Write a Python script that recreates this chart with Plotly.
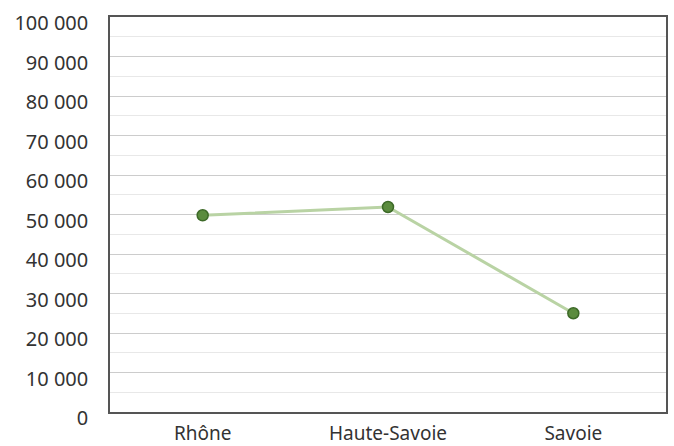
import plotly.graph_objects as go

departements = ["Rhône", "Haute-Savoie", "Savoie"]
valeurs = [49800, 51900, 25000]

fig = go.Figure()
fig.add_trace(go.Scatter(
    x=departements,
    y=valeurs,
    mode="lines+markers",
    line=dict(color="#b9d3a4", width=3),
    marker=dict(size=11, color="#5b8c3e", line=dict(color="#3d6a28", width=1.5)),
    showlegend=False,
))

fig.update_layout(
    width=674,
    height=446,
    margin=dict(l=110, r=8, t=17, b=34, autoexpand=False),
    paper_bgcolor="white",
    plot_bgcolor="white",
    separators=", ",
    font=dict(family="Noto Sans, Open Sans, sans-serif", size=20, color="#333333"),
)

fig.update_xaxes(
    type="category",
    range=[-0.5, 2.5],
    showgrid=False,
    showline=True,
    linecolor="#555555",
    linewidth=1.5,
    mirror=True,
    ticks="",
    automargin=False,
    ticklabelstandoff=3,
    tickfont=dict(size=19, color="#333333"),
)

fig.update_yaxes(
    range=[0, 100000],
    dtick=10000,
    tickformat=",d",
    showgrid=True,
    gridcolor="#cccccc",
    gridwidth=1,
    minor=dict(dtick=5000, showgrid=True, gridcolor="#e8e8e8", gridwidth=1),
    showline=True,
    linecolor="#555555",
    linewidth=1.5,
    mirror=True,
    zeroline=False,
    ticks="",
    automargin=False,
    ticklabelstandoff=16,
    ticklabelshift=6,
    tickfont=dict(size=20, color="#333333"),
)

fig.write_html("out.html")
